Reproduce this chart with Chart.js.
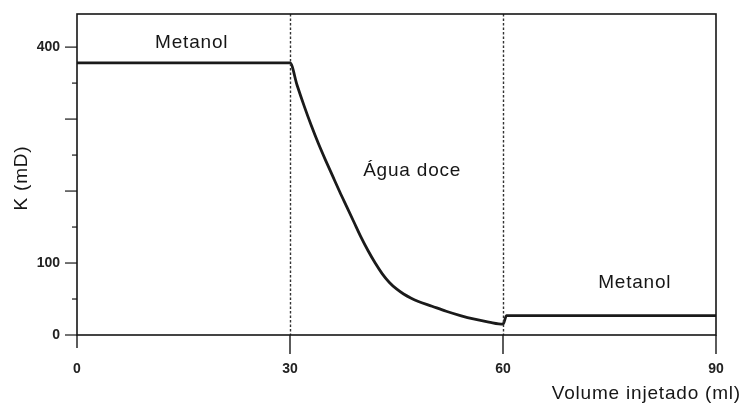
<!DOCTYPE html>
<html>
<head>
<meta charset="utf-8">
<script src="https://cdn.jsdelivr.net/npm/chart.js@4/dist/chart.umd.min.js"></script>
<style>
  html, body { margin: 0; padding: 0; background: #fff; }
  #wrap { width: 743px; height: 405px; position: relative; }
</style>
</head>
<body>
<div id="wrap"><canvas id="c" width="743" height="405"></canvas></div>
<script>
// Injected volume (ml) and permeability K (mD) along the flood sequence
const volume = [0, 30, 31, 32, 33, 34, 35, 36, 37, 38, 39, 40, 41, 42, 43, 44, 45, 46, 47, 48, 50, 52, 54, 56, 58, 60, 60.5, 90];
const permeability = [378, 378, 347, 318, 291, 266, 243, 221, 199, 178, 157, 136, 117, 100, 85, 73, 64, 57, 51.5, 47, 40, 33, 27, 22, 18, 15, 27, 27];

// Fluid changes (ml)
const fluidChanges = [30, 60];

// Axis ticks
const xTicks = [0, 30, 60, 90];
const xTickLabels = ['0', '30', '60', '90'];
const yTicks = [0, 50, 100, 150, 200, 250, 300, 350, 400];
const yTickLabels = ['0', '', '100', '', '', '', '', '', '400'];

// Region labels: [text, volume, K]
const regionLabels = [
  ['Metanol', 11, 406],
  ['Água doce', 40.3, 228],
  ['Metanol', 73.4, 72]
];

const INK = '#161616';
const TXT = 'Liberation Sans, Arial, sans-serif';

// keep the plot frame fixed: no extra room for overhanging tick labels
const noOverhang = s => {
  s.paddingTop = 0; s.paddingBottom = 0; s.paddingLeft = 0; s.paddingRight = 0;
};

const decorations = {
  id: 'decorations',
  afterDraw(chart) {
    const { ctx, chartArea: a, scales: { x, y } } = chart;
    ctx.save();

    // fluid change markers
    ctx.strokeStyle = '#333';
    ctx.lineWidth = 1.4;
    ctx.setLineDash([2.5, 2]);
    fluidChanges.forEach(v => {
      const px = Math.round(x.getPixelForValue(v)) + 0.5;
      ctx.beginPath();
      ctx.moveTo(px, a.top);
      ctx.lineTo(px, a.bottom);
      ctx.stroke();
    });
    ctx.setLineDash([]);

    // frame
    ctx.strokeStyle = INK;
    ctx.lineWidth = 1.6;
    ctx.strokeRect(a.left, a.top, a.right - a.left, a.bottom - a.top);

    // x ticks (outward)
    ctx.lineWidth = 1.4;
    xTicks.forEach(v => {
      const px = x.getPixelForValue(v);
      ctx.beginPath();
      ctx.moveTo(px, a.bottom);
      ctx.lineTo(px, a.bottom + (v === 0 ? 13 : 19));
      ctx.stroke();
    });

    // y ticks: long at hundreds, short at fifties
    ctx.lineWidth = 1.2;
    yTicks.forEach(v => {
      const py = y.getPixelForValue(v);
      const len = v % 100 === 0 ? 12 : 5;
      ctx.beginPath();
      ctx.moveTo(a.left - len, py);
      ctx.lineTo(a.left, py);
      ctx.stroke();
    });

    // region labels
    ctx.fillStyle = INK;
    ctx.font = '19px ' + TXT;
    ctx.letterSpacing = '0.8px';
    ctx.textAlign = 'left';
    ctx.textBaseline = 'middle';
    regionLabels.forEach(([t, vx, vy]) => {
      ctx.fillText(t, x.getPixelForValue(vx), y.getPixelForValue(vy));
    });

    // axis titles
    ctx.textAlign = 'right';
    ctx.fillText('Volume injetado (ml)', 741, 394);
    ctx.translate(22, 178);
    ctx.rotate(-Math.PI / 2);
    ctx.textAlign = 'center';
    ctx.fillText('K (mD)', 0, 0);
    ctx.restore();
  }
};

new Chart(document.getElementById('c'), {
  type: 'line',
  data: {
    datasets: [{
      data: volume.map((v, i) => ({ x: v, y: permeability[i] })),
      borderColor: '#1a1a1a',
      borderWidth: 2.8,
      pointRadius: 0,
      fill: false,
      cubicInterpolationMode: 'monotone'
    }]
  },
  options: {
    responsive: false,
    animation: false,
    layout: { padding: { top: 14, right: 27, left: 0, bottom: 0 } },
    plugins: { legend: { display: false }, tooltip: { enabled: false } },
    scales: {
      x: {
        type: 'linear',
        min: 0,
        max: 90,
        grid: { display: false, drawTicks: false },
        border: { display: false },
        afterBuildTicks: s => { s.ticks = xTicks.map(v => ({ value: v })); },
        afterFit: s => { s.height = 70; noOverhang(s); },
        ticks: {
          padding: 26,
          color: '#222',
          font: { family: TXT, size: 14, weight: 'bold' },
          maxRotation: 0,
          autoSkip: false,
          callback: (v) => xTickLabels[xTicks.indexOf(v)]
        }
      },
      y: {
        type: 'linear',
        min: 0,
        max: 446,
        grid: { display: false, drawTicks: false },
        border: { display: false },
        afterBuildTicks: s => { s.ticks = yTicks.map(v => ({ value: v })); },
        afterFit: s => { s.width = 77; noOverhang(s); },
        ticks: {
          padding: 17,
          color: '#222',
          font: { family: TXT, size: 14, weight: 'bold' },
          autoSkip: false,
          callback: (v) => yTickLabels[yTicks.indexOf(v)]
        }
      }
    }
  },
  plugins: [decorations]
});
</script>
</body>
</html>
